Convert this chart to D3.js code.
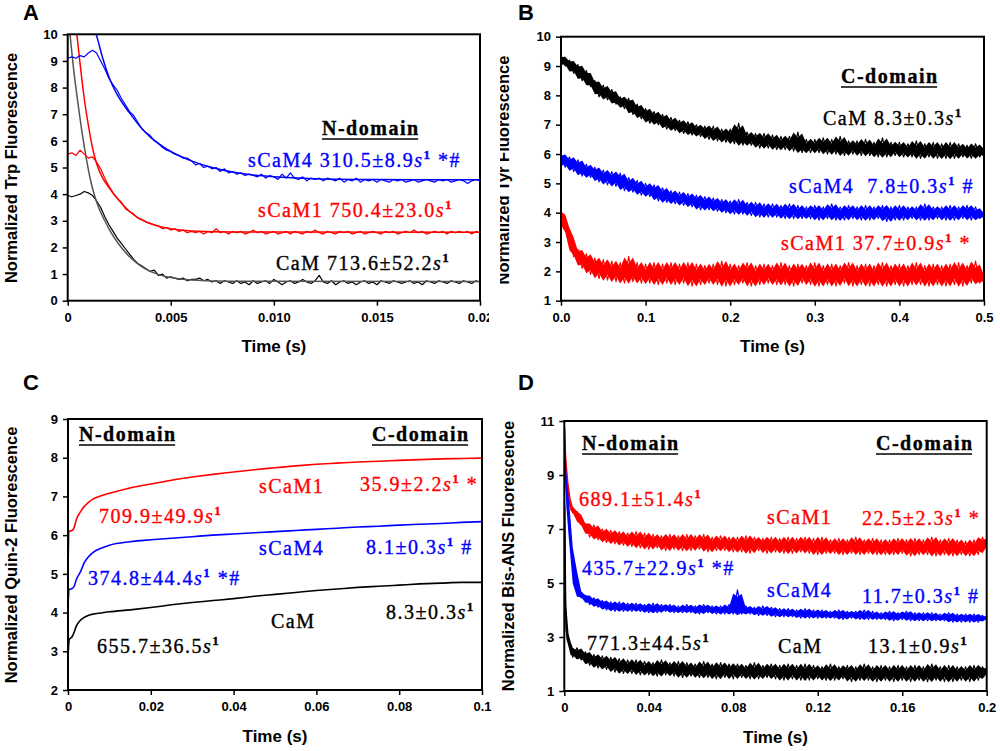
<!DOCTYPE html>
<html>
<head>
<meta charset="utf-8">
<script src="https://cdn.jsdelivr.net/npm/d3@7"></script>
<style>
  body { margin: 0; background: #fff; }
  svg { display: block; }
</style>
</head>
<body>
<div id="chart"></div>
<script>
// ---- Panel A: Trp fluorescence, N-domain (time grid 0..0.02 s, 0.2 ms steps)
const tA = d3.range(101).map(i => i * 0.0002);
const aSCaM4 = [
  9.1, 9.15, 9.1, 9.2, 9.15, 9.3, 9.4, 9.3, 9.0, 8.7,
  8.35, 8.1, 7.9, 7.6, 7.35, 7.1, 6.95, 6.7, 6.45, 6.3,
  6.2, 6.0, 5.9, 5.75, 5.65, 5.6, 5.5, 5.45, 5.35, 5.35,
  5.25, 5.1, 5.15, 5.0, 5.05, 4.95, 5.0, 4.85, 4.95, 4.8,
  4.85, 4.75, 4.8, 4.7, 4.75, 4.7, 4.65, 4.75, 4.6, 4.7,
  4.65, 4.55, 4.75, 4.6, 4.8, 4.6, 4.55, 4.65, 4.5, 4.6,
  4.55, 4.6, 4.5, 4.6, 4.55, 4.5, 4.6, 4.45, 4.55, 4.5,
  4.6, 4.45, 4.55, 4.5, 4.55, 4.45, 4.55, 4.5, 4.45, 4.55,
  4.5, 4.55, 4.45, 4.5, 4.55, 4.45, 4.5, 4.55, 4.5, 4.45,
  4.55, 4.5, 4.55, 4.45, 4.5, 4.55, 4.5, 4.4, 4.5, 4.55,
  4.5
];
const aSCaM1 = [
  5.5, 5.55, 5.45, 5.65, 5.5, 5.35, 5.4, 5.2, 4.95, 4.6,
  4.3, 4.05, 3.85, 3.7, 3.45, 3.35, 3.25, 3.1, 3.05, 2.95,
  2.9, 2.85, 2.8, 2.7, 2.75, 2.65, 2.7, 2.6, 2.65, 2.55,
  2.6, 2.55, 2.6, 2.5, 2.6, 2.55, 2.7, 2.55, 2.6, 2.5,
  2.6, 2.55, 2.6, 2.5, 2.55, 2.65, 2.55, 2.6, 2.5, 2.55,
  2.6, 2.5, 2.55, 2.6, 2.5, 2.6, 2.55, 2.5, 2.6, 2.55,
  2.65, 2.55, 2.5, 2.6, 2.55, 2.5, 2.6, 2.55, 2.6, 2.5,
  2.55, 2.6, 2.5, 2.55, 2.6, 2.55, 2.5, 2.6, 2.55, 2.6,
  2.5, 2.55, 2.6, 2.55, 2.65, 2.55, 2.6, 2.5, 2.55, 2.6,
  2.55, 2.6, 2.5, 2.6, 2.55, 2.6, 2.55, 2.6, 2.5, 2.6,
  2.55
];
const aCaM = [
  3.95, 3.9, 3.95, 4.0, 4.1, 4.05, 3.95, 3.75, 3.5, 3.15,
  2.85, 2.6, 2.35, 2.15, 1.95, 1.75, 1.55, 1.4, 1.3, 1.2,
  1.1, 1.15, 0.95, 1.0, 0.85, 0.9, 0.85, 0.8, 0.85, 0.75,
  0.8, 0.8, 0.85, 0.75, 0.8, 0.7, 0.75, 0.65, 0.75, 0.7,
  0.65, 0.75, 0.65, 0.7, 0.6, 0.75, 0.65, 0.7, 0.75, 0.65,
  0.8, 0.7, 0.6, 0.7, 0.75, 0.65, 0.7, 0.8, 0.7, 0.65,
  0.75, 0.95, 0.7, 0.65, 0.75, 0.6, 0.7, 0.75, 0.65, 0.7,
  0.6, 0.7, 0.75, 0.65, 0.7, 0.6, 0.75, 0.7, 0.65, 0.75,
  0.7, 0.65, 0.7, 0.75, 0.65, 0.7, 0.6, 0.75, 0.7, 0.65,
  0.75, 0.7, 0.65, 0.75, 0.7, 0.65, 0.75, 0.7, 0.65, 0.75,
  0.7
];
// fitted curves, [time, value]
const aFitSCaM4 = [[0.0012, 10.4], [0.0014, 9.95], [0.0017, 9.1], [0.002, 8.4], [0.0025, 7.6], [0.003, 7.05],
  [0.0035, 6.55], [0.004, 6.15], [0.0045, 5.85], [0.005, 5.6], [0.006, 5.25], [0.007, 5.0], [0.008, 4.83],
  [0.009, 4.72], [0.01, 4.65], [0.012, 4.58], [0.015, 4.55], [0.02, 4.54]];
const aFitSCaM1 = [[0.0004, 10.3], [0.0006, 8.9], [0.0008, 7.6], [0.001, 6.6], [0.0012, 5.75], [0.0014, 5.15],
  [0.0017, 4.6], [0.002, 4.25], [0.0025, 3.75], [0.003, 3.35], [0.0035, 3.07], [0.004, 2.9], [0.0045, 2.78],
  [0.005, 2.7], [0.006, 2.62], [0.008, 2.58], [0.02, 2.57]];
const aFitCaM = [[0.0001, 10.1], [0.0003, 8.6], [0.0005, 7.4], [0.0007, 6.3], [0.0009, 5.35], [0.0011, 4.55],
  [0.0013, 3.95], [0.0015, 3.5], [0.0018, 3.0], [0.002, 2.7], [0.0025, 2.1], [0.003, 1.65], [0.0035, 1.33],
  [0.004, 1.1], [0.0045, 0.96], [0.005, 0.87], [0.006, 0.78], [0.008, 0.73], [0.02, 0.72]];
const aXTicks = [0, 0.005, 0.01, 0.015, 0.02];
const aXLabels = ["0", "0.005", "0.010", "0.015", "0.02"];
const aYTicks = [0, 1, 2, 3, 4, 5, 6, 7, 8, 9, 10];

// ---- Panel B: Tyr fluorescence, C-domain (0..0.5 s, 5 ms steps)
const tB = d3.range(101).map(i => i * 0.005);
const bCaM = [
  9.35, 9.0, 9.2, 8.75, 9.05, 8.5, 8.85, 8.3, 8.5, 7.95,
  8.35, 7.85, 8.2, 7.7, 7.95, 7.55, 7.9, 7.35, 7.7, 7.2,
  7.55, 7.05, 7.45, 7.0, 7.35, 6.85, 7.25, 6.8, 7.15, 6.7,
  7.1, 6.65, 7.0, 6.6, 6.95, 6.5, 6.95, 6.45, 6.85, 6.4,
  6.85, 6.35, 7.05, 6.3, 6.75, 6.3, 6.7, 6.2, 6.7, 6.2,
  6.65, 6.15, 6.6, 6.15, 6.6, 6.1, 6.75, 6.05, 6.5, 6.05,
  6.5, 6.05, 6.55, 6.0, 6.5, 6.0, 6.6, 5.95, 6.45, 6.0,
  6.45, 5.95, 6.5, 5.95, 6.4, 5.9, 6.55, 5.9, 6.4, 5.95,
  6.4, 5.9, 6.35, 5.9, 6.45, 5.85, 6.35, 5.9, 6.4, 5.85,
  6.35, 5.85, 6.4, 5.85, 6.35, 5.9, 6.3, 5.85, 6.35, 5.9,
  6.2
];
const bSCaM4 = [
  6.0, 5.55, 5.9, 5.4, 5.8, 5.25, 5.65, 5.2, 5.55, 5.05,
  5.45, 4.95, 5.4, 4.9, 5.35, 4.75, 5.2, 4.7, 5.1, 4.6,
  5.0, 4.55, 4.95, 4.4, 4.85, 4.35, 4.75, 4.3, 4.7, 4.25,
  4.65, 4.2, 4.6, 4.1, 4.55, 4.1, 4.5, 4.05, 4.45, 4.0,
  4.4, 3.95, 4.45, 3.95, 4.35, 3.9, 4.35, 3.85, 4.3, 3.85,
  4.3, 3.85, 4.25, 3.8, 4.3, 3.8, 4.25, 3.8, 4.2, 3.8,
  4.25, 3.75, 4.2, 3.8, 4.3, 3.75, 4.2, 3.75, 4.25, 3.8,
  4.2, 3.75, 4.25, 3.75, 4.2, 3.8, 4.25, 3.7, 4.2, 3.75,
  4.25, 3.75, 4.2, 3.8, 4.2, 3.75, 4.3, 3.75, 4.2, 3.8,
  4.2, 3.75, 4.25, 3.75, 4.2, 3.8, 4.25, 3.75, 4.2, 3.8,
  4.0
];
const bSCaM1 = [
  4.1, 3.5, 3.3, 2.5, 2.75, 2.1, 2.6, 1.9, 2.45, 1.75,
  2.4, 1.7, 2.35, 1.65, 2.3, 1.6, 2.5, 1.65, 2.3, 1.6,
  2.25, 1.6, 2.3, 1.55, 2.25, 1.6, 2.3, 1.55, 2.25, 1.6,
  2.3, 1.5, 2.25, 1.55, 2.2, 1.6, 2.25, 1.55, 2.35, 1.5,
  2.25, 1.55, 2.2, 1.6, 2.3, 1.5, 2.2, 1.55, 2.25, 1.6,
  2.2, 1.55, 2.3, 1.55, 2.2, 1.5, 2.25, 1.6, 2.2, 1.55,
  2.3, 1.5, 2.2, 1.55, 2.25, 1.5, 2.2, 1.6, 2.3, 1.5,
  2.2, 1.55, 2.25, 1.5, 2.2, 1.55, 2.3, 1.5, 2.2, 1.55,
  2.25, 1.5, 2.2, 1.55, 2.3, 1.55, 2.2, 1.5, 2.25, 1.55,
  2.2, 1.5, 2.25, 1.55, 2.3, 1.5, 2.2, 1.6, 2.35, 1.6,
  1.9
];
const bXTicks = [0, 0.1, 0.2, 0.3, 0.4, 0.5];
const bXLabels = ["0.0", "0.1", "0.2", "0.3", "0.4", "0.5"];
const bYTicks = [1, 2, 3, 4, 5, 6, 7, 8, 9, 10];

// ---- Panel C: Quin-2 fluorescence
const tC = [0, 0.0003, 0.001, 0.0015, 0.002, 0.003, 0.004, 0.005, 0.006, 0.008, 0.01, 0.015, 0.02, 0.025,
  0.03, 0.035, 0.04, 0.045, 0.05, 0.055, 0.06, 0.065, 0.07, 0.075, 0.08, 0.085, 0.09, 0.095, 0.1];
const cSCaM1 = [5.2, 6.1, 6.12, 6.2, 6.4, 6.6, 6.75, 6.85, 6.93, 7.02, 7.08, 7.22, 7.32, 7.42,
  7.5, 7.57, 7.63, 7.69, 7.74, 7.79, 7.83, 7.86, 7.89, 7.91, 7.93, 7.95, 7.97, 7.98, 7.99];
const cSCaM4 = [4.15, 4.6, 4.62, 4.68, 4.85, 5.05, 5.3, 5.45, 5.55, 5.66, 5.74, 5.83, 5.88, 5.92,
  5.96, 6.0, 6.03, 6.06, 6.09, 6.12, 6.15, 6.18, 6.21, 6.23, 6.26, 6.28, 6.3, 6.33, 6.35];
const cCaM = [2.85, 3.3, 3.38, 3.5, 3.65, 3.8, 3.88, 3.93, 3.96, 3.99, 4.02, 4.07, 4.13, 4.2,
  4.26, 4.31, 4.36, 4.42, 4.47, 4.52, 4.57, 4.61, 4.65, 4.68, 4.71, 4.74, 4.76, 4.78, 4.78];
const cXTicks = [0, 0.02, 0.04, 0.06, 0.08, 0.1];
const cXLabels = ["0", "0.02", "0.04", "0.06", "0.08", "0.1"];
const cYTicks = [2, 3, 4, 5, 6, 7, 8, 9];

// ---- Panel D: Bis-ANS fluorescence (first points dense, then 2 ms steps)
const tD = [0, 0.0005, 0.001, 0.002, 0.003, 0.004, 0.006, 0.008].concat(d3.range(96).map(i => 0.01 + i * 0.002));
const dSCaM1 = [
  11.0, 9.8, 8.9, 8.2, 7.9, 7.6, 7.65, 7.15,
  7.2, 6.7, 7.15, 6.6, 7.0, 6.5, 6.95, 6.45, 6.9, 6.4, 6.85, 6.35,
  6.9, 6.3, 6.85, 6.25, 6.8, 6.3, 6.75, 6.2, 6.8, 6.25, 6.75, 6.2,
  6.8, 6.2, 6.75, 6.25, 6.8, 6.15, 6.7, 6.2, 6.75, 6.2, 6.7, 6.15,
  6.7, 6.15, 6.75, 6.1, 6.7, 6.2, 6.65, 6.1, 6.7, 6.15, 6.65, 6.1,
  6.7, 6.1, 6.65, 6.15, 6.7, 6.1, 6.65, 6.05, 6.7, 6.1, 6.6, 6.1,
  6.65, 6.05, 6.6, 6.1, 6.7, 6.05, 6.6, 6.1, 6.65, 6.05, 6.6, 6.05,
  6.6, 6.05, 6.65, 6.1, 6.6, 6.0, 6.65, 6.05, 6.6, 6.05, 6.7, 6.0,
  6.6, 6.05, 6.65, 6.0, 6.6, 6.05, 6.55, 6.0, 6.6, 6.05, 6.7, 6.3
];
const dSCaM4 = [
  10.5, 9.2, 8.4, 7.6, 6.5, 5.7, 4.75, 4.45,
  4.55, 4.2, 4.45, 4.1, 4.35, 4.0, 4.3, 3.95, 4.3, 3.95, 4.25, 3.95,
  4.25, 3.95, 4.2, 3.9, 4.25, 3.9, 4.2, 3.95, 4.2, 3.9, 4.15, 3.9,
  4.2, 3.9, 4.15, 3.85, 4.2, 3.9, 4.15, 3.85, 4.15, 3.85, 4.2, 3.85,
  4.75, 3.85, 4.15, 3.85, 4.1, 3.8, 4.15, 3.8, 4.1, 3.75, 4.05, 3.75,
  4.05, 3.75, 4.0, 3.7, 4.05, 3.7, 4.0, 3.7, 4.0, 3.7, 3.95, 3.7,
  4.0, 3.65, 3.95, 3.7, 3.95, 3.65, 4.0, 3.65, 3.95, 3.65, 3.9, 3.65,
  3.95, 3.6, 3.9, 3.65, 3.95, 3.6, 3.9, 3.6, 3.9, 3.6, 3.9, 3.6,
  3.85, 3.6, 3.9, 3.55, 3.85, 3.55, 3.85, 3.55, 3.85, 3.55, 3.8, 3.65
];
const dCaM = [
  9.0, 4.5, 3.2, 2.9, 2.55, 2.25, 2.6, 2.15,
  2.45, 1.95, 2.35, 1.85, 2.3, 1.8, 2.25, 1.7, 2.2, 1.65, 2.15, 1.65,
  2.15, 1.6, 2.1, 1.6, 2.05, 1.55, 2.15, 1.6, 2.05, 1.55, 2.1, 1.5,
  2.05, 1.55, 2.0, 1.5, 2.1, 1.5, 2.0, 1.45, 2.05, 1.5, 2.0, 1.45,
  2.0, 1.5, 1.95, 1.45, 2.05, 1.45, 1.95, 1.5, 2.0, 1.45, 1.95, 1.4,
  2.0, 1.45, 1.95, 1.4, 2.0, 1.4, 1.95, 1.45, 1.9, 1.4, 2.0, 1.4,
  1.9, 1.45, 1.95, 1.35, 1.9, 1.4, 2.0, 1.4, 1.9, 1.35, 1.95, 1.4,
  1.9, 1.35, 1.95, 1.4, 1.9, 1.35, 1.95, 1.4, 1.9, 1.35, 2.0, 1.4,
  1.9, 1.35, 1.95, 1.35, 1.9, 1.4, 1.9, 1.35, 1.95, 1.4, 1.9, 1.6
];
const dXTicks = [0, 0.04, 0.08, 0.12, 0.16, 0.2];
const dXLabels = ["0", "0.04", "0.08", "0.12", "0.16", "0.2"];
const dYTicks = [1, 3, 5, 7, 9, 11];

const RED = "#ff0000", BLUE = "#0000ff", BLACK = "#000";
const SANS = '"Liberation Sans", Arial, sans-serif';
const SERIF = '"Liberation Serif", "Times New Roman", serif';

const svg = d3.select("#chart").append("svg")
    .attr("width", 1000)
    .attr("height", 751);
const defs = svg.append("defs");

function panel(o) {
    let g = svg.append("g");
    if (o.cut) {
        defs.append("clipPath").attr("id", "cut" + o.name).append("rect")
            .attr("x", o.cut[0]).attr("y", o.cut[1]).attr("width", o.cut[2]).attr("height", o.cut[3]);
        g.attr("clip-path", `url(#cut${o.name})`);
    }
    const x = d3.scaleLinear().domain(o.xDomain).range([o.left, o.right]);
    const y = d3.scaleLinear().domain(o.yDomain).range([o.bottom, o.top]);

    defs.append("clipPath").attr("id", "plot" + o.name).append("rect")
        .attr("x", o.left).attr("y", o.top)
        .attr("width", o.right - o.left).attr("height", o.bottom - o.top);
    const plot = g.append("g").attr("clip-path", `url(#plot${o.name})`);

    const line = d3.line().x(d => x(d[0])).y(d => y(d[1]));
    o.series.forEach(s => {
        const pts = s.pairs || s.t.map((t, i) => [t, s.v[i]]);
        if (s.band) {
            // щільне ядро шумової смуги: середнє сусідніх точок ± частина їх розмаху
            const env = pts.map((p, i) => {
                const w = s.v.slice(Math.max(0, i - 1), i + 2);
                const m = d3.mean(w), h = (d3.max(w) - d3.min(w)) * 0.38;
                return [p[0], m - h, m + h];
            });
            plot.append("path")
                .datum(env)
                .attr("d", d3.area().x(d => x(d[0])).y0(d => y(d[1])).y1(d => y(d[2])))
                .attr("fill", s.color);
        }
        plot.append("path")
            .datum(pts)
            .attr("d", line.curve(s.smooth ? d3.curveMonotoneX : d3.curveLinear))
            .attr("fill", "none")
            .attr("stroke", s.color)
            .attr("stroke-width", s.width || 1.2)
            .attr("stroke-linejoin", "round");
    });

    // осі
    const xAxis = g.append("g")
        .attr("transform", `translate(0,${o.bottom})`)
        .call(d3.axisBottom(x).tickValues(o.xTicks).tickFormat((d, i) => o.xLabels[i])
            .tickSize(5).tickPadding(7));
    const yAxis = g.append("g")
        .attr("transform", `translate(${o.left},0)`)
        .call(d3.axisLeft(y).tickValues(o.yTicks).tickFormat(d3.format("d"))
            .tickSize(5).tickPadding(5));
    [xAxis, yAxis].forEach(ax => {
        ax.select(".domain").remove();
        ax.attr("font-family", SANS).attr("font-size", 13).attr("font-weight", "bold");
        ax.selectAll(".tick line").attr("stroke", "#000").attr("stroke-width", 1.5);
        ax.selectAll(".tick text").attr("fill", "#000");
    });

    g.append("rect")
        .attr("x", o.left).attr("y", o.top)
        .attr("width", o.right - o.left).attr("height", o.bottom - o.top)
        .attr("fill", "none").attr("stroke", "#000").attr("stroke-width", 2);

    g.append("text")
        .attr("x", (o.left + o.right) / 2).attr("y", o.xTitleY)
        .attr("text-anchor", "middle")
        .attr("font-family", SANS).attr("font-size", 17).attr("font-weight", "bold")
        .text("Time (s)");
    g.append("text")
        .attr("transform", `translate(${o.yTitleX},${o.yTitleY}) rotate(-90)`)
        .attr("text-anchor", "middle")
        .attr("dominant-baseline", "central")
        .attr("font-family", SANS).attr("font-size", 16.5).attr("font-weight", "bold")
        .text(o.yTitle);
    g.append("text")
        .attr("x", o.tag[0]).attr("y", o.tag[1])
        .attr("font-family", SANS).attr("font-size", 22).attr("font-weight", "bold")
        .text(o.name);
    return g;
}

// підпис з курсивом (_s_) та верхнім індексом (^1^)
function note(x, y, color, str, header) {
    const t = svg.append("text")
        .attr("x", x).attr("y", y)
        .attr("fill", color)
        .attr("stroke", color)
        .attr("stroke-width", 0.35)
        .attr("font-family", SERIF)
        .attr("font-size", 20)
        .attr("letter-spacing", 1.5)
        .style("white-space", "pre");
    if (header) t.attr("font-weight", "bold");
    let up = false;
    str.split(/(_[^_]+_|\^[^^]+\^)/).filter(p => p !== "").forEach(p => {
        const ts = t.append("tspan");
        if (up) { ts.attr("dy", 8); up = false; }
        if (p[0] === "_") {
            ts.attr("font-style", "italic").text(p.slice(1, -1));
        } else if (p[0] === "^") {
            ts.attr("font-size", 13).attr("font-weight", "bold").attr("dy", -8).text(p.slice(1, -1));
            up = true;
        } else {
            ts.text(p);
        }
    });
    if (header) {
        const bb = t.node().getBBox();
        svg.append("line")
            .attr("x1", bb.x).attr("x2", bb.x + bb.width - 1.5)
            .attr("y1", y + 4).attr("y2", y + 4)
            .attr("stroke", color).attr("stroke-width", 1.5);
    }
}

panel({
    name: "A", left: 67.7, right: 480, top: 34.3, bottom: 300.7,
    cut: [0, 0, 489, 370],
    xDomain: [0, 0.02], yDomain: [0, 10],
    xTicks: aXTicks, xLabels: aXLabels, yTicks: aYTicks,
    xTitleY: 352, yTitle: "Normalized Trp Fluorescence", yTitleX: 11, yTitleY: 168, tag: [23, 20],
    series: [
        { t: tA, v: aCaM, color: BLACK },
        { pairs: aFitCaM, color: "#555", width: 1.5, smooth: true },
        { t: tA, v: aSCaM1, color: RED },
        { pairs: aFitSCaM1, color: RED, width: 1.5, smooth: true },
        { t: tA, v: aSCaM4, color: BLUE },
        { pairs: aFitSCaM4, color: BLUE, width: 1.5, smooth: true }
    ]
});

panel({
    name: "B", left: 561, right: 984, top: 36.7, bottom: 300.7,
    cut: [500, 0, 500, 370],
    xDomain: [0, 0.5], yDomain: [1, 10],
    xTicks: bXTicks, xLabels: bXLabels, yTicks: bYTicks,
    xTitleY: 352, yTitle: "Normalized Tyr Fluorescence", yTitleX: 503, yTitleY: 170, tag: [518, 20],
    series: [
        { t: tB, v: bCaM, color: BLACK, band: true, width: 1.2 },
        { t: tB, v: bSCaM4, color: BLUE, band: true, width: 1.2 },
        { t: tB, v: bSCaM1, color: RED, band: true, width: 1.2 }
    ]
});

panel({
    name: "C", left: 68, right: 482, top: 419, bottom: 690,
    xDomain: [0, 0.1], yDomain: [2, 9],
    xTicks: cXTicks, xLabels: cXLabels, yTicks: cYTicks,
    xTitleY: 742, yTitle: "Normalized Quin-2 Fluorescence", yTitleX: 11, yTitleY: 555, tag: [23, 390],
    series: [
        { t: tC, v: cSCaM1, color: RED, width: 1.6, smooth: true },
        { t: tC, v: cSCaM4, color: BLUE, width: 1.6, smooth: true },
        { t: tC, v: cCaM, color: BLACK, width: 1.6, smooth: true }
    ]
});

panel({
    name: "D", left: 564.3, right: 986.7, top: 421, bottom: 691,
    xDomain: [0, 0.2], yDomain: [1, 11],
    xTicks: dXTicks, xLabels: dXLabels, yTicks: dYTicks,
    xTitleY: 743, yTitle: "Normalized Bis-ANS Fluorescence", yTitleX: 508, yTitleY: 556, tag: [518, 390],
    series: [
        { t: tD, v: dSCaM1, color: RED, band: true, width: 1.2 },
        { t: tD, v: dSCaM4, color: BLUE, band: true, width: 1.2 },
        { t: tD, v: dCaM, color: BLACK, band: true, width: 1.2 }
    ]
});

// Підписи A
note(322, 135, BLACK, "N-domain", true);
note(248, 167, BLUE, "sCaM4 310.5±8.9_s_^1^ *#");
note(258, 217, RED, "sCaM1 750.4±23.0_s_^1^");
note(276, 270, BLACK, "CaM 713.6±52.2_s_^1^");

// Підписи B
note(841, 83, BLACK, "C-domain", true);
note(823, 125, BLACK, "CaM 8.3±0.3_s_^1^");
note(789, 193, BLUE, "sCaM4  7.8±0.3_s_^1^ #");
note(781, 250, RED, "sCaM1 37.7±0.9_s_^1^ *");

// Підписи C
note(79, 441, BLACK, "N-domain", true);
note(372, 441, BLACK, "C-domain", true);
note(259, 493, RED, "sCaM1");
note(360, 491, RED, "35.9±2.2_s_^1^ *");
note(99, 523, RED, "709.9±49.9_s_^1^");
note(259, 555, BLUE, "sCaM4");
note(366, 554, BLUE, "8.1±0.3_s_^1^ #");
note(88, 585, BLUE, "374.8±44.4_s_^1^ *#");
note(271, 628, BLACK, "CaM");
note(386, 619, BLACK, "8.3±0.3_s_^1^");
note(97, 653, BLACK, "655.7±36.5_s_^1^");

// Підписи D
note(582, 450, BLACK, "N-domain", true);
note(876, 450, BLACK, "C-domain", true);
note(579, 506, RED, "689.1±51.4_s_^1^");
note(767, 524, RED, "sCaM1");
note(862, 525, RED, "22.5±2.3_s_^1^ *");
note(582, 575, BLUE, "435.7±22.9_s_^1^ *#");
note(767, 597, BLUE, "sCaM4");
note(862, 603, BLUE, "11.7±0.3_s_^1^ #");
note(587, 650, BLACK, "771.3±44.5_s_^1^");
note(778, 653, BLACK, "CaM");
note(868, 653, BLACK, "13.1±0.9_s_^1^");
</script>
</body>
</html>
